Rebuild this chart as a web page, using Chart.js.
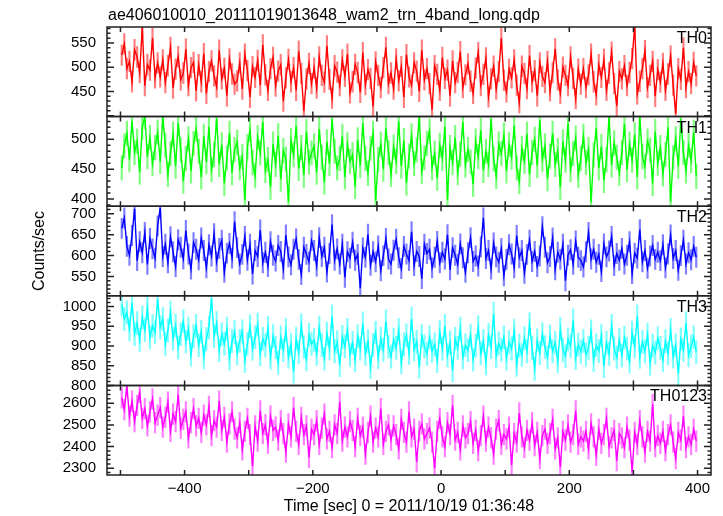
<!DOCTYPE html>
<html>
<head>
<meta charset="utf-8">
<script src="https://cdn.jsdelivr.net/npm/chart.js@4.4.0/dist/chart.umd.min.js"></script>
<style>
html, body { margin: 0; padding: 0; background: #fff; }
canvas { display: block; }
</style>
</head>
<body>
<canvas id="lc" width="723" height="516"></canvas>
<script>
// light curve of the 4 WAM energy bands + sum, 4 s bins
const plotTitle = "ae406010010_20111019013648_wam2_trn_4band_long.qdp";
const xTitle = "Time [sec] 0 = 2011/10/19 01:36:48";
const yTitle = "Counts/sec";
const bands = ["TH0", "TH1", "TH2", "TH3", "TH0123"];
const tStart = -500;
const binSec = 4;

const th0 = [
  525, 548, 497, 512, 470, 536, 521, 489, 583, 462, 505, 494, 560, 478, 509,
  480, 515, 468, 503, 541, 457, 496, 522, 474, 488, 537, 462, 499, 510, 451,
  505, 470, 528, 446, 491, 513, 482, 459, 535, 476, 498, 441, 517, 486, 465,
  472, 509, 455, 527, 493, 438, 501, 479, 514, 463, 546, 484, 452, 497, 520,
  461, 492, 505, 430, 478, 516, 470, 499, 452, 533, 487, 409, 476, 508, 466,
  498, 457, 521, 483, 469, 544, 475, 436, 503, 490, 462, 515, 481, 527, 447,
  470, 506, 489, 448, 530, 464, 495, 477, 419, 511, 483, 458, 499, 541, 466,
  488, 455, 517, 472, 501, 438, 526, 480, 463, 509, 492, 450, 535, 474, 497,
  466, 412, 503, 485, 452, 520, 477, 494, 441, 513, 468, 489, 532, 458, 484,
  507, 471, 446, 498, 530, 462, 485, 519, 439, 476, 502, 455, 491, 560, 473,
  449, 496, 478, 515, 463, 427, 502, 487, 456, 524, 470, 493, 441, 509, 481,
  468, 512, 451, 489, 538, 474, 446, 500, 483, 462, 521, 477, 435, 496, 465,
  497, 458, 484, 527, 470, 443, 505, 479, 516, 452, 488, 531, 466, 420, 491,
  476, 503, 462, 489, 518, 585, 445, 471, 497, 534, 458, 483, 512, 440, 495,
  469, 508, 452, 486, 523, 463, 404, 497, 475, 540, 458, 491, 466, 510, 482
];
const th1 = [
  452, 489, 510, 466, 531, 478, 497, 445, 520, 538, 471, 503, 459, 486, 512,
  463, 538, 490, 441, 476, 509, 455, 527, 482, 430, 468, 501, 447, 493, 517,
  480, 437, 505, 462, 521, 449, 474, 535, 458, 491, 426, 469, 510, 444, 483,
  495, 452, 471, 398, 488, 516, 461, 439, 503, 477, 529, 448, 466, 420, 492,
  458, 506, 433, 481, 467, 395, 498, 474, 522, 451, 486, 440, 513, 462, 477,
  489, 445, 517, 470, 428, 496, 459, 534, 480, 452, 468, 505, 437, 491, 463,
  474, 421, 499, 456, 527, 468, 443, 485, 510, 397, 466, 492, 450, 519, 478,
  441, 487, 463, 530, 455, 498, 427, 472, 506, 459, 482, 538, 446, 469, 493,
  514, 452, 477, 435, 490, 468, 521, 399, 486, 461, 503, 444, 475, 529, 457,
  483, 462, 425, 497, 471, 515, 448, 480, 458, 534, 467, 438, 492, 476, 507,
  447, 491, 470, 523, 452, 429, 485, 463, 509, 441, 478, 500, 456, 532, 466,
  489, 434, 472, 510, 458, 481, 420, 496, 465, 527, 449, 476, 502, 440, 468,
  505, 461, 483, 395, 474, 519, 452, 488, 431, 466, 538, 457, 494, 470, 443,
  478, 526, 449, 492, 465, 508, 437, 538, 471, 455, 497, 482, 426, 513, 460,
  486, 442, 475, 520, 396, 469, 501, 455, 534, 478, 447, 490, 464, 512, 438
];
const th2 = [
  665, 690, 622, 601, 648, 712, 588, 633, 607, 655, 579, 641, 616, 594, 671,
  714, 598, 627, 583, 645, 609, 574, 638, 620, 592, 660, 604, 568, 631, 615,
  590, 642, 612, 571, 626, 599, 652, 585, 617, 637, 560, 606, 629, 594, 681,
  619, 580, 603, 646, 589, 627, 556, 612, 598, 661, 583, 608, 574, 633, 601,
  587, 624, 610, 568, 649, 597, 578, 615, 640, 591, 555, 620, 603, 585, 636,
  612, 575, 643, 598, 620, 561, 605, 674, 589, 616, 580, 627, 548, 609, 594,
  632, 589, 603, 522, 618, 596, 651, 577, 609, 585, 623, 564, 600, 641, 592,
  580, 613, 639, 595, 569, 622, 604, 588, 657, 576, 610, 598, 545, 627, 605,
  615, 571, 596, 634, 583, 608, 592, 650, 566, 619, 601, 579, 628, 595, 560,
  607, 643, 586, 599, 575, 621, 690, 593, 612, 568, 630, 597, 584, 617, 552,
  591, 626, 604, 571, 648, 595, 612, 558, 603, 637, 586, 610, 574, 599, 669,
  620, 583, 598, 642, 566, 608, 591, 627, 540, 601, 614, 579, 635, 596, 588,
  573, 609, 655, 592, 615, 584, 603, 562, 628, 597, 611, 646, 576, 605, 589,
  617, 580, 601, 633, 557, 606, 594, 662, 585, 612, 570, 599, 624, 591, 608,
  588, 626, 571, 604, 649, 593, 612, 565, 600, 637, 580, 607, 590, 622, 596
];
const th3 = [
  1005, 968, 985, 942, 1010, 930, 958, 915, 972, 940, 996, 921, 951, 934, 1019,
  947, 968, 905, 939, 985, 918, 952, 896, 930, 962, 911, 944, 878, 925, 951,
  902, 936, 871, 918, 947, 1020, 925, 958, 889, 930, 906, 944, 868, 912, 935,
  881, 913, 937, 862, 905, 950, 893, 922, 954, 879, 918, 901, 946, 870, 925,
  896, 857, 921, 889, 940, 872, 903, 835, 918, 884, 952, 897, 866, 928, 905,
  915, 880, 946, 902, 868, 931, 894, 975, 886, 910, 851, 923, 899, 941, 877,
  908, 864, 925, 893, 957, 880, 912, 846, 903, 934, 871, 918, 890, 962, 898,
  873, 916, 895, 940, 858, 904, 927, 882, 969, 891, 911, 847, 925, 899, 880,
  921, 887, 904, 862, 935, 893, 951, 876, 909, 838, 918, 895, 944, 871, 902,
  889, 926, 865, 900, 947, 881, 913, 856, 928, 897, 981, 874, 906, 890, 922,
  868, 910, 893, 939, 852, 901, 877, 920, 886, 955, 895, 842, 914, 882, 930,
  897, 871, 924, 886, 908, 861, 943, 890, 874, 917, 899, 965, 869, 903, 885,
  913, 878, 895, 937, 864, 902, 887, 926, 849, 908, 880, 951, 893, 871, 915,
  876, 921, 893, 860, 934, 898, 975, 872, 910, 886, 929, 855, 901, 883, 919,
  895, 864, 912, 881, 941, 873, 902, 830, 917, 890, 958, 876, 899, 922, 884
];
const th0123 = [
  2625, 2570, 2680, 2540, 2610, 2515, 2590, 2650, 2530, 2575, 2495, 2560, 2620, 2510, 2545,
  2580, 2490, 2535, 2605, 2470, 2550, 2515, 2640, 2485, 2525, 2560, 2440, 2510, 2575, 2495,
  2530, 2465, 2545, 2500, 2585, 2450, 2520, 2490, 2610, 2475, 2535, 2420, 2505, 2560, 2480,
  2440, 2510, 2385, 2470, 2530, 2455, 2310, 2495, 2425, 2565, 2460, 2500, 2415, 2540, 2475,
  2490, 2430, 2520, 2460, 2375, 2505, 2445, 2580, 2470, 2410, 2535, 2455, 2495, 2350, 2480,
  2455, 2520, 2410, 2485, 2550, 2435, 2470, 2395, 2500, 2460, 2605, 2425, 2490, 2445, 2515,
  2475, 2400, 2530, 2450, 2490, 2365, 2465, 2540, 2420, 2485, 2445, 2575, 2410, 2470, 2500,
  2430, 2495, 2455, 2390, 2525, 2465, 2420, 2560, 2445, 2480, 2330, 2470, 2505, 2435, 2460,
  2485, 2420, 2300, 2470, 2530, 2445, 2400, 2510, 2455, 2590, 2430, 2465, 2385, 2495, 2440,
  2460, 2515, 2415, 2475, 2380, 2450, 2540, 2425, 2490, 2440, 2365, 2480, 2520, 2410, 2455,
  2435, 2490, 2315, 2460, 2420, 2555, 2445, 2395, 2475, 2430, 2510, 2405, 2465, 2345, 2450,
  2480, 2415, 2460, 2525, 2390, 2440, 2305, 2470, 2430, 2500, 2420, 2455, 2565, 2410, 2445,
  2425, 2470, 2390, 2505, 2445, 2360, 2480, 2415, 2455, 2530, 2400, 2440, 2475, 2335, 2460,
  2440, 2395, 2490, 2430, 2285, 2465, 2410, 2520, 2445, 2375, 2470, 2425, 2595, 2400, 2450,
  2415, 2470, 2380, 2455, 2500, 2420, 2345, 2465, 2430, 2540, 2395, 2445, 2410, 2480, 2425
];
const series = [th0, th1, th2, th3, th0123];
const errs = [22, 21, 25, 30, 49];

const yMin = [398, 388, 504, 800, 2269];
const yMax = [583, 538, 718, 1027, 2682];
const yTicks = [[450, 500, 550], [400, 450, 500], [550, 600, 650, 700], [800, 850, 900, 950, 1000], [2300, 2400, 2500, 2600]];
const yMajor = [50, 50, 50, 50, 100];
const yMinor = [10, 10, 10, 10, 20];
const xTicks = [-400, -200, 0, 200, 400];
const xMarks = [-500, -400, -300, -200, -100, 0, 100, 200, 300, 400];

const colors = ["#ff0000", "#00ff00", "#0000ff", "#00ffff", "#ff00ff"];
const errColors = ["rgba(255,0,0,0.5)", "rgba(0,255,0,0.5)", "rgba(0,0,255,0.5)", "rgba(0,255,255,0.5)", "rgba(255,0,255,0.5)"];

Chart.defaults.font.family = "'Liberation Sans', Arial, sans-serif";
Chart.defaults.color = "#000";

const binTime = (k) => tStart + (k + 0.5) * binSec;

const qdpFrame = {
  id: "qdpFrame",
  beforeDatasetDraw(chart, args) {
    const i = args.index;
    const ys = chart.scales["y" + i];
    const xs = chart.scales.x;
    const area = chart.chartArea;
    const ctx = chart.ctx;
    ctx.save();
    ctx.beginPath();
    ctx.rect(area.left, ys.top, area.right - area.left, ys.bottom - ys.top);
    ctx.clip();
    ctx.strokeStyle = errColors[i];
    ctx.lineWidth = 2.2;
    ctx.beginPath();
    series[i].forEach((v, k) => {
      const px = xs.getPixelForValue(binTime(k));
      ctx.moveTo(px, ys.getPixelForValue(v - errs[i]));
      ctx.lineTo(px, ys.getPixelForValue(v + errs[i]));
    });
    ctx.stroke();
  },
  afterDatasetDraw(chart) {
    chart.ctx.restore();
  },
  afterDraw(chart) {
    const ctx = chart.ctx;
    const area = chart.chartArea;
    const xs = chart.scales.x;
    ctx.save();
    ctx.strokeStyle = "#222";
    ctx.lineWidth = 1.5;
    bands.forEach((b, i) => {
      const ys = chart.scales["y" + i];
      ctx.beginPath();
      ctx.rect(area.left, ys.top, area.right - area.left, ys.bottom - ys.top);
      ctx.stroke();
      ctx.beginPath();
      // y ticks, inward on both sides
      const lo = Math.ceil(yMin[i] / yMinor[i]) * yMinor[i];
      for (let v = lo; v <= yMax[i]; v += yMinor[i]) {
        const py = ys.getPixelForValue(v);
        const len = v % yMajor[i] === 0 ? 7 : 3.5;
        ctx.moveTo(area.left, py);
        ctx.lineTo(area.left + len, py);
        ctx.moveTo(area.right, py);
        ctx.lineTo(area.right - len, py);
      }
      // x ticks, inward top and bottom
      xMarks.forEach((t) => {
        const px = xs.getPixelForValue(t);
        ctx.moveTo(px, ys.top);
        ctx.lineTo(px, ys.top + 5);
        ctx.moveTo(px, ys.bottom);
        ctx.lineTo(px, ys.bottom - 5);
      });
      ctx.stroke();
      ctx.fillStyle = "#000";
      ctx.font = "16px 'Liberation Sans', Arial, sans-serif";
      ctx.textAlign = "right";
      ctx.textBaseline = "alphabetic";
      ctx.fillText(b, area.right - 4, ys.top + 16);
    });
    ctx.fillStyle = "#000";
    ctx.font = "16px 'Liberation Sans', Arial, sans-serif";
    ctx.textAlign = "left";
    ctx.textBaseline = "alphabetic";
    ctx.fillText(plotTitle, 108, 20);
    ctx.translate(40, 251);
    ctx.rotate(-Math.PI / 2);
    ctx.textAlign = "center";
    ctx.textBaseline = "middle";
    ctx.fillText(yTitle, 0, 0);
    ctx.restore();
  }
};

const scales = {
  x: {
    type: "linear",
    position: "bottom",
    min: -521,
    max: 421,
    grid: { display: false, drawTicks: false },
    border: { display: false },
    afterBuildTicks: (s) => { s.ticks = xTicks.map((v) => ({ value: v })); },
    afterFit: (s) => { s.height = 41; },
    ticks: {
      padding: 5,
      autoSkip: false,
      maxRotation: 0,
      font: { size: 15 },
      callback: (v) => String(v).replace("-", "\u2212")
    },
    title: {
      display: true,
      text: xTitle,
      font: { size: 16 },
      padding: { top: 0, bottom: 0 }
    }
  }
};
// left stacked axes are laid out last-defined on top, so add the bottom panel first
for (let i = bands.length - 1; i >= 0; i--) {
  scales["y" + i] = {
    type: "linear",
    position: "left",
    stack: "panels",
    stackWeight: 1,
    min: yMin[i],
    max: yMax[i],
    grid: { display: false, drawTicks: false },
    border: { display: false },
    afterBuildTicks: (s) => { s.ticks = yTicks[i].map((v) => ({ value: v })); },
    afterFit: (s) => { s.width = 107; },
    ticks: {
      padding: 11,
      autoSkip: false,
      font: { size: 15 },
      callback: (v) => String(v)
    }
  };
}

const datasets = series.map((vals, i) => ({
  label: bands[i],
  data: vals.map((v, k) => ({ x: binTime(k), y: v })),
  xAxisID: "x",
  yAxisID: "y" + i,
  borderColor: colors[i],
  borderWidth: 1.4,
  pointRadius: 0,
  tension: 0,
  fill: false
}));

const ctx = document.getElementById("lc").getContext("2d");
const chart = new Chart(ctx, {
  type: "line",
  data: { datasets: datasets },
  options: {
    responsive: false,
    animation: false,
    layout: { padding: { top: 27, right: 12, left: 0, bottom: 0 } },
    plugins: {
      legend: { display: false },
      tooltip: { enabled: false }
    },
    scales: scales
  },
  plugins: [qdpFrame]
});
</script>
</body>
</html>
